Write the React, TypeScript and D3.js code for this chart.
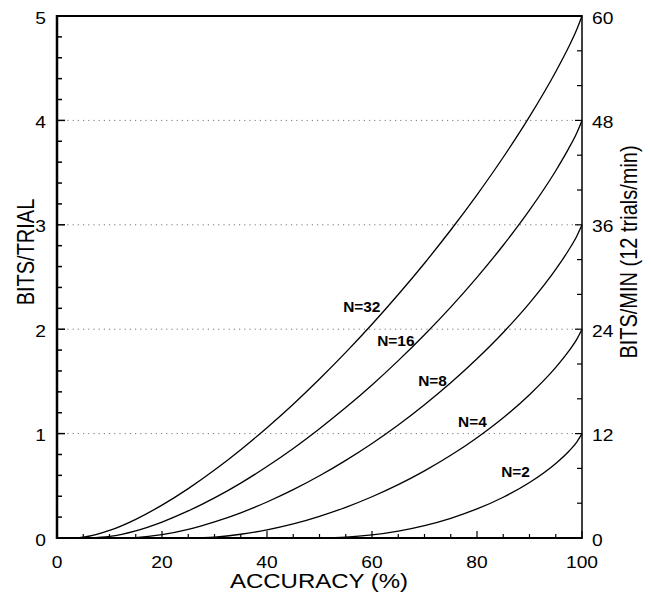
import React from 'react';
import * as d3 from 'd3';

// curves: bits per trial vs accuracy, one per number of choices N
const acc32 = [3.125, 5, 10, 15, 20, 25, 30, 35, 40, 45, 50, 55, 60, 65, 70, 75, 80, 85, 90, 95, 97.5, 99, 100];
const bits32 = [0, 0.007, 0.072, 0.179, 0.315, 0.473, 0.651, 0.846, 1.057, 1.282, 1.523, 1.778, 2.047, 2.332, 2.632, 2.95, 3.287, 3.647, 4.036, 4.466, 4.707, 4.87, 5];
const acc16 = [6.25, 10, 15, 20, 25, 30, 35, 40, 45, 50, 55, 60, 65, 70, 75, 80, 85, 90, 95, 97.5, 99, 100];
const bits16 = [0, 0.015, 0.069, 0.153, 0.259, 0.384, 0.526, 0.685, 0.858, 1.047, 1.249, 1.466, 1.699, 1.947, 2.212, 2.497, 2.804, 3.14, 3.518, 3.734, 3.88, 4];
const acc8 = [12.5, 15, 20, 25, 30, 35, 40, 45, 50, 55, 60, 65, 70, 75, 80, 85, 90, 95, 97.5, 99, 100];
const bits8 = [0, 0.004, 0.032, 0.083, 0.154, 0.241, 0.345, 0.463, 0.596, 0.744, 0.906, 1.083, 1.277, 1.487, 1.717, 1.969, 2.25, 2.573, 2.761, 2.891, 3];
const acc4 = [25, 30, 35, 40, 45, 50, 55, 60, 65, 70, 75, 80, 85, 90, 95, 97.5, 99, 100];
const bits4 = [0, 0.009, 0.036, 0.078, 0.135, 0.208, 0.294, 0.395, 0.511, 0.643, 0.792, 0.961, 1.152, 1.373, 1.634, 1.792, 1.903, 2];
const acc2 = [50, 55, 60, 65, 70, 75, 80, 85, 90, 95, 97.5, 99, 100];
const bits2 = [0, 0.007, 0.029, 0.066, 0.119, 0.189, 0.278, 0.39, 0.531, 0.714, 0.831, 0.919, 1];

const seriesNames = ['N=32', 'N=16', 'N=8', 'N=4', 'N=2'];
// where each curve label sits, in [accuracy, bits] units
const labelAt = [[54.5, 2.165], [61, 1.84], [68.8, 1.456], [76.4, 1.063], [84.6, 0.584]];

const xTicks = [0, 20, 40, 60, 80, 100];
const leftTicks = [0, 1, 2, 3, 4, 5];
const rightTicks = [0, 12, 24, 36, 48, 60];

const W = 651, H = 597;
const left = 57, right = 582, top = 16, bottom = 538;
const font = '"Liberation Sans", Arial, Helvetica, sans-serif';
const sx = 1.2; // the scan is stretched sideways

export default function App() {
  const x = d3.scaleLinear().domain([0, 100]).range([left, right]);
  const y = d3.scaleLinear().domain([0, 5]).range([bottom, top]);
  const y2 = d3.scaleLinear().domain([0, 60]).range([bottom, top]);

  const series = [
    { acc: acc32, bits: bits32 },
    { acc: acc16, bits: bits16 },
    { acc: acc8, bits: bits8 },
    { acc: acc4, bits: bits4 },
    { acc: acc2, bits: bits2 },
  ];

  const line = d3.line<[number, number]>()
    .x(d => x(d[0]))
    .y(d => y(d[1]))
    .curve(d3.curveMonotoneX);

  const xMinor = d3.range(0, 101, 5);
  const leftMinor = d3.range(0, 5.01, 0.2);
  const rightMinor = d3.range(0, 61, 4);

  return (
    <svg width={W} height={H} style={{ position: 'absolute', left: 0, top: 0, background: '#fff' }}
      fontFamily={font}>
      {/* dotted grid */}
      {[1, 2, 3, 4].map(v => (
        <line key={'g' + v} x1={left} x2={right} y1={y(v)} y2={y(v)}
          stroke="#777" strokeWidth={1} strokeDasharray="1.2,4" />
      ))}

      {/* ticks */}
      {xMinor.map(v => (
        <line key={'xt' + v} x1={x(v)} x2={x(v)} y1={bottom} y2={bottom - (v % 20 === 0 ? 7 : 4)}
          stroke="#000" strokeWidth={1.2} />
      ))}
      {leftMinor.map((v, i) => (
        <line key={'lt' + i} x1={left} x2={left + (i % 5 === 0 ? 8 : 5)} y1={y(v)} y2={y(v)}
          stroke="#000" strokeWidth={1.5} />
      ))}
      {rightMinor.map(v => (
        <line key={'rt' + v} x1={right} x2={right - (v % 12 === 0 ? 7 : 5)} y1={y2(v)} y2={y2(v)}
          stroke="#000" strokeWidth={1.2} />
      ))}

      {/* frame */}
      <line x1={left} x2={right} y1={top} y2={top} stroke="#000" strokeWidth={2} />
      <line x1={left} x2={right} y1={bottom} y2={bottom} stroke="#000" strokeWidth={2} />
      <line x1={left} x2={left} y1={top - 1} y2={bottom + 1} stroke="#000" strokeWidth={2.5} />
      <line x1={right} x2={right} y1={top - 1} y2={bottom + 1} stroke="#000" strokeWidth={1.5} />

      {/* curves */}
      {series.map((s, i) => (
        <path key={'c' + i}
          d={line(s.acc.map((a, j) => [a, s.bits[j]] as [number, number])) || ''}
          fill="none" stroke="#000" strokeWidth={1.3} />
      ))}

      {/* curve labels */}
      {seriesNames.map((n, i) => (
        <text key={'n' + i} transform={`translate(${x(labelAt[i][0])},${y(labelAt[i][1])}) scale(1.1,1)`}
          fontSize={14} fontWeight="bold" fill="#000">{n}</text>
      ))}

      {/* tick labels */}
      {xTicks.map(v => (
        <text key={'xl' + v} transform={`translate(${x(v)},568) scale(${sx},1)`}
          textAnchor="middle" fontSize={16} fill="#000">{v}</text>
      ))}
      {leftTicks.map(v => (
        <text key={'ll' + v} transform={`translate(46,${y(v) + 7.5}) scale(${sx},1)`}
          textAnchor="end" fontSize={16} fill="#000">{v}</text>
      ))}
      {rightTicks.map(v => (
        <text key={'rl' + v} transform={`translate(592,${y2(v) + 7.5}) scale(${sx},1)`}
          textAnchor="start" fontSize={16} fill="#000">{v}</text>
      ))}

      {/* axis titles */}
      <text transform={`translate(319,588) scale(${sx},1)`} textAnchor="middle" fontSize={20} fill="#000">
        ACCURACY (%)
      </text>
      <text transform={`translate(34,252) scale(${sx},1) rotate(-90)`} textAnchor="middle" fontSize={20} fill="#000">
        BITS/TRIAL
      </text>
      <text transform={`translate(637,252) scale(${sx},1) rotate(-90)`} textAnchor="middle" fontSize={20} fill="#000">
        BITS/MIN (12 trials/min)
      </text>
    </svg>
  );
}
